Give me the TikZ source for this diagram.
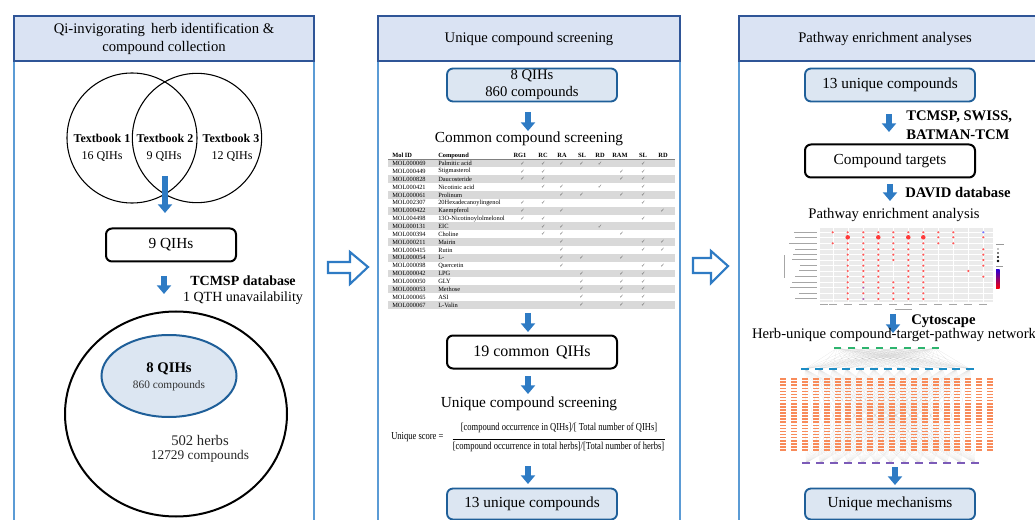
\documentclass[tikz,border=0pt]{standalone}
\usepackage{fontspec}
\setmainfont{Liberation Serif}
\newfontfamily\condfont[FakeStretch=0.8]{Liberation Serif}
\newfontfamily\symfont{DejaVu Sans}
\usetikzlibrary{arrows.meta,shapes.geometric}
\definecolor{hdrfill}{HTML}{DAE3F3}
\definecolor{hdrdraw}{HTML}{2F5597}
\definecolor{panelblue}{HTML}{5B9BD5}
\definecolor{arrblue}{HTML}{2E7BC4}
\definecolor{boxblue}{HTML}{DCE6F2}
\definecolor{boxdraw}{HTML}{1F5F99}
\definecolor{rowgray}{HTML}{D9D9D9}
\definecolor{netorange}{HTML}{F88B5A}
\definecolor{netgreen}{HTML}{2DB46E}
\definecolor{netblue}{HTML}{1C8CC4}
\definecolor{netpurple}{HTML}{7C5BB8}
\definecolor{dotred}{HTML}{FF3A3A}
\newcommand\myfs[2]{\fontsize{#1}{#2}\selectfont}
\begin{document}
\begin{tikzpicture}[x=0.75pt,y=-0.75pt,
  panel/.style={draw=panelblue,line width=1.1pt},
  hdr/.style={draw=hdrdraw,fill=hdrfill,line width=1.1pt},
  bluebox/.style={draw=boxdraw,fill=boxblue,line width=1.4pt,rounded corners=4.5pt,minimum width=127.5pt,minimum height=24.75pt,inner sep=0pt,align=center},
  blackbox/.style={draw=black,fill=white,line width=1.5pt,rounded corners=4.5pt,minimum width=127.5pt,minimum height=24.75pt,inner sep=0pt,align=center},
  barrow/.style={draw=arrblue,line width=4pt,-{Triangle[width=10.5pt,length=6.5pt]}},
  hollow/.style={draw=arrblue,fill=white,line width=1.6pt,line join=miter},
  txt/.style={inner sep=0pt,align=center},
  tcell/.style={inner sep=0pt,font=\myfs{4.8}{5}},
  chk/.style={inner sep=0pt,font=\symfont\myfs{4}{4},text=black!60},
]
\useasboundingbox (0,0) rectangle (1035,520);
\clip (0,0) rectangle (1035,520);

% ---------------- panels ----------------
\draw[panel] (14,16) rectangle (314,530);
\draw[hdr] (14,16) rectangle (314,61);
\node[txt,font=\myfs{11}{13.5}] (h1) at (164,39) {Qi-invigorating\, herb identification \&\\compound collection};

\draw[panel] (378,16) rectangle (680,530);
\draw[hdr] (378,16) rectangle (680,61);
\node[txt,font=\myfs{11}{13.5}] (h2) at (529,39) {Unique compound screening};

\draw[panel] (739,16) rectangle (1045,530);
\draw[hdr] (739,16) rectangle (1045,61);
\node[txt,font=\myfs{11}{13.5}] (h3) at (885,39) {Pathway enrichment analyses};

% hollow arrows between panels
\draw[hollow] (328,262) -- (350,262) -- (350,252) -- (368,267) -- (350,284) -- (350,273) -- (328,273) -- cycle;
\draw[hollow] (693,258) -- (711,258) -- (711,251) -- (728,266) -- (711,283) -- (711,273) -- (693,273) -- cycle;

% ---------------- panel 1 ----------------
\node[circle,draw,line width=0.8pt,minimum size=97.5pt,inner sep=0pt] (v1) at (132,138) {};
\node[circle,draw,line width=0.8pt,minimum size=97pt,inner sep=0pt] (v2) at (197,138) {};
\node[txt,font=\bfseries\myfs{9}{10}] (tb1) at (102,138) {Textbook 1};
\node[txt,font=\bfseries\myfs{9}{10}] (tb2) at (165,138) {Textbook 2};
\node[txt,font=\bfseries\myfs{9}{10}] (tb3) at (231,138) {Textbook 3};
\node[txt,font=\myfs{9}{10}] (n1) at (102,157) {16 QIHs};
\node[txt,font=\myfs{9}{10}] (n2) at (164,157) {9 QIHs};
\node[txt,font=\myfs{9}{10}] (n3) at (232,157) {12 QIHs};

\coordinate (a1s) at (165,176);
\coordinate (a1e) at (165,213);
\draw[barrow] (a1s) -- (a1e);

\node[blackbox,minimum width=97.5pt,font=\myfs{11.5}{13}] (q9) at (171,245) {9 QIHs};

\coordinate (a2s) at (164,276);
\coordinate (a2e) at (164,294);
\draw[barrow] (a2s) -- (a2e);
\node[txt,font=\bfseries\myfs{10.5}{12}] (tcmsp) at (243,281) {TCMSP database};
\node[txt,font=\myfs{10.5}{12}] (unav) at (243,298) {1 QTH unavailability};

\node[ellipse,draw,line width=1.5pt,minimum width=166.5pt,minimum height=153.75pt,inner sep=0pt] (all) at (176,414) {};
\node[ellipse,draw=boxdraw,fill=boxblue,line width=1.5pt,minimum width=101.25pt,minimum height=61.5pt,inner sep=0pt] (qi8) at (169,376) {};
\node[txt,font=\bfseries\myfs{11}{12}] (qi8a) at (169,369) {8 QIHs};
\node[txt,font=\myfs{8.5}{10},text=black!80] (qi8b) at (169,386) {860 compounds};
\node[txt,font=\myfs{11}{12},text=black!85] (herbs) at (200,440) {502 herbs};
\node[txt,font=\myfs{10}{12},text=black!85] (herbc) at (200,456) {12729 compounds};

% ---------------- panel 2 ----------------
\node[bluebox,font=\myfs{11}{12.5}] (b8) at (532,85) {8 QIHs\\860 compounds};
\coordinate (b1s) at (528,112);
\coordinate (b1e) at (528,131);
\draw[barrow] (b1s) -- (b1e);
\node[txt,font=\myfs{11.5}{13}] (ccs) at (529,139) {Common compound screening};

% table
\foreach \lab/\cx in {RG1/520,RC/543,RA/562,SL/582,RD/600,RAM/620,SL/643,RD/663}
  \node[tcell,font=\bfseries\myfs{4.8}{5}] (th\cx) at (\cx,155.5) {\lab};
\node[tcell,font=\bfseries\myfs{4.8}{5},anchor=west] (thid) at (392,155.5) {Mol ID};
\node[tcell,font=\bfseries\myfs{4.8}{5},anchor=west] (thcp) at (438,155.5) {Compound};
\draw[black!50,line width=0.3pt] (388,159.6) -- (675,159.6);
\foreach \id/\nm/\cks [count=\i] in {
 MOL000069/Palmitic acid/{1,2,3,4,5,7},
 MOL000449/Stigmasterol/{1,2,6,7},
 MOL000828/Daucosteride/{1,2,6,7},
 MOL000421/Nicotinic acid/{2,3,5,7},
 MOL000061/Prolinum/{3,4,6,7},
 MOL002307/20Hexadecanoylingenol/{1,2,7},
 MOL000422/Kaempferol/{1,3,8},
 MOL004498/13O-Nicotinoylolmelonol/{1,2,7},
 MOL000131/EIC/{2,3,5},
 MOL000394/Choline/{2,3,6},
 MOL000211/Mairin/{3,7,8},
 MOL000415/Rutin/{3,7,8},
 MOL000054/L-/{3,4,6},
 MOL000098/Quercetin/{3,7,8},
 MOL000042/LPG/{4,6,7},
 MOL000050/GLY/{4,6,7},
 MOL000053/Methose/{4,6,7},
 MOL000065/ASI/{4,6,7},
 MOL000067/L-Valin/{4,6,7}}{
  \pgfmathsetmacro\ry{163.5+(\i-1)*7.86}
  \ifodd\i\relax \fill[rowgray] (388,\ry-3.9) rectangle (675,\ry+3.9); \fi
  \node[tcell,anchor=west] (mid\i) at (392,\ry) {\id};
  \node[tcell,anchor=west] (mnm\i) at (438,\ry) {\nm};
  \foreach \c in \cks {
    \pgfmathsetmacro\ccx{{522.7,543.3,561.7,581.7,600,621.7,643.3,662.7}[\c-1]}
    \node[chk] (ck\i-\c) at (\ccx,\ry) {✓};
  }
}

\coordinate (b2s) at (528,313);
\coordinate (b2e) at (528,332);
\draw[barrow] (b2s) -- (b2e);
\node[blackbox,font=\myfs{12}{13}] (c19) at (532,352) {19 common\, QIHs};
\coordinate (b3s) at (528,376);
\coordinate (b3e) at (528,394);
\draw[barrow] (b3s) -- (b3e);
\node[txt,font=\myfs{11.5}{13}] (ucs) at (529,404) {Unique compound screening};

\node[txt,font=\condfont\myfs{8}{9},anchor=west] (usl) at (391,437) {Unique score =};
\node[txt,font=\condfont\myfs{8}{9}] (num) at (559,428) {[compound occurrence in QIHs]/[ Total number of QIHs]};
\node[txt,font=\condfont\myfs{8}{9}] (den) at (558.5,447) {[compound occurrence in total herbs]/[Total number of herbs]};
\draw[line width=0.5pt] ([yshift=2pt]den.north west) -- ([yshift=2pt]den.north east);

\coordinate (b4s) at (528,466);
\coordinate (b4e) at (528,484);
\draw[barrow] (b4s) -- (b4e);
\node[bluebox,minimum height=23.25pt,font=\myfs{11.5}{13}] (u13) at (532,504) {13 unique compounds};

% ---------------- panel 3 ----------------
\node[bluebox,font=\myfs{11.5}{13}] (p13) at (890,85) {13 unique compounds};
\coordinate (c1s) at (889,114);
\coordinate (c1e) at (889,132);
\draw[barrow] (c1s) -- (c1e);
\node[txt,font=\bfseries\myfs{11}{12},anchor=west] (db1) at (906,117) {TCMSP, SWISS,};
\node[txt,font=\bfseries\myfs{11}{12},anchor=west] (db2) at (906,135) {BATMAN-TCM};
\node[blackbox,font=\myfs{11.5}{13}] (ct) at (890,161) {Compound targets};
\coordinate (c2s) at (890,184);
\coordinate (c2e) at (890,201);
\draw[barrow] (c2s) -- (c2e);
\node[txt,font=\bfseries\myfs{11}{12},anchor=west] (david) at (905,193) {DAVID database};
\node[txt,font=\myfs{11}{13}] (pea) at (894,215) {Pathway enrichment analysis};

% dot plot
\fill[black!8] (820,228) rectangle (993,302);
\foreach \yy in {232.3,237.3,243.3,249.3,254.7,260,265.7,271,276.7,282.3,287.7,293.3,299}{
  \draw[white,line width=0.3pt] (820,\yy) -- (993,\yy);
  \pgfmathsetmacro\ww{18+mod(round(\yy*7),12)}
  \fill[black!35] (818-\ww,\yy-0.5) rectangle (817,\yy+0.5);
}
\fill[black!35] (784,255) rectangle (785.2,278);
\foreach \xx in {832.7,847.7,863.3,878.3,893.3,908.3,923.3,938.3,953.3,968.3,983.3}{
  \draw[white,line width=0.3pt] (\xx,228) -- (\xx,302);
  \fill[black!35] (\xx-4,304.5) rectangle (\xx+4,305.5);
}
\fill[black!35] (820,304.5) rectangle (828,305.5);
\fill[black!35] (895,309) rectangle (912,310);
\foreach \yy/\cols [count=\r] in {
 232.3/{1,2,3,4,5,6,7,8,9},
 237.3/{3,5,8,9,11},
 243.3/{1,2,3,4,5,6,7,8,9},
 249.3/{2,3,4,5,6,7,11},
 254.7/{2,3,4,5,6,7,11},
 260/{2,3,4,5,6,7,11},
 265.7/{2,3,4,6,7,11},
 271/{2,3,4,6,7,10},
 276.7/{2,3,4,6,7,11},
 282.3/{2,3,4,5,6,7},
 287.7/{2,4,5,6,7},
 293.3/{2,3,4,5,6,7},
 299/{2,4,5,6,7}}{
  \foreach \c in \cols {
    \pgfmathsetmacro\dx{{832.7,847.7,863.3,878.3,893.3,908.3,923.3,938.3,953.3,968.3,983.3}[\c-1]}
    \fill[dotred!85] (\dx,\yy) circle (0.9pt);
  }
}
\foreach \dx in {847.7,878.3,908.3,923.3}
  \fill[dotred] (\dx,237.3) circle (1.7pt);
\fill[violet!60] (863.3,287.7) circle (0.9pt);
\fill[violet!60] (863.3,299) circle (0.9pt);
\fill[blue!55] (983.3,232.3) circle (0.9pt);
\fill[black!40] (996,244) rectangle (1004,245);
\foreach \k/\s in {0/0.5,1/0.7,2/0.9,3/1.1}
  \fill[black] (998,249+\k*4) circle (\s pt);
\fill[black!40] (996,266) rectangle (1003,267);
\shade[top color=blue!80!red,bottom color=red] (996,270) rectangle (999.5,289);

\coordinate (c3s) at (893,314);
\coordinate (c3e) at (893,333);
\draw[barrow] (c3s) -- (c3e);
\node[txt,font=\bfseries\myfs{11}{12},anchor=west] (cyto) at (911,321) {Cytoscape};
\node[txt,font=\myfs{11}{13}] (net) at (894,335) {Herb-unique compound-target-pathway network};

% network
\foreach \a in {0,...,7}
  \foreach \b in {0,...,12}
    \draw[black!40,opacity=0.25,line width=0.15pt] (837+\a*14,348) -- (805+\b*13.75,369);
\foreach \a in {0,...,12}
  \foreach \b in {0,...,12}
    \draw[black!40,opacity=0.2,line width=0.15pt] (805+\a*13.75,369) -- (806+\b*14.08,463);
\foreach \c in {0,...,19}
  \foreach \r in {0,...,23}
    \fill[netorange] (783+\c*10.9-3,379+\r*3.08-0.7) rectangle ++(6,1.6);
\foreach \a in {0,...,7}
  \fill[netgreen] (837+\a*14-3.5,347) rectangle ++(7,2.2);
\foreach \a in {0,...,12}
  \fill[netblue] (805+\a*13.75-4,368) rectangle ++(8,2.4);
\foreach \a in {0,...,12}
  \fill[netpurple] (806+\a*14.08-4,462) rectangle ++(8,2.2);

\coordinate (c4s) at (895,467);
\coordinate (c4e) at (895,485);
\draw[barrow] (c4s) -- (c4e);
\node[bluebox,minimum height=23.25pt,font=\myfs{11.5}{13}] (um) at (890,504) {Unique mechanisms};
\end{tikzpicture}
\end{document}
